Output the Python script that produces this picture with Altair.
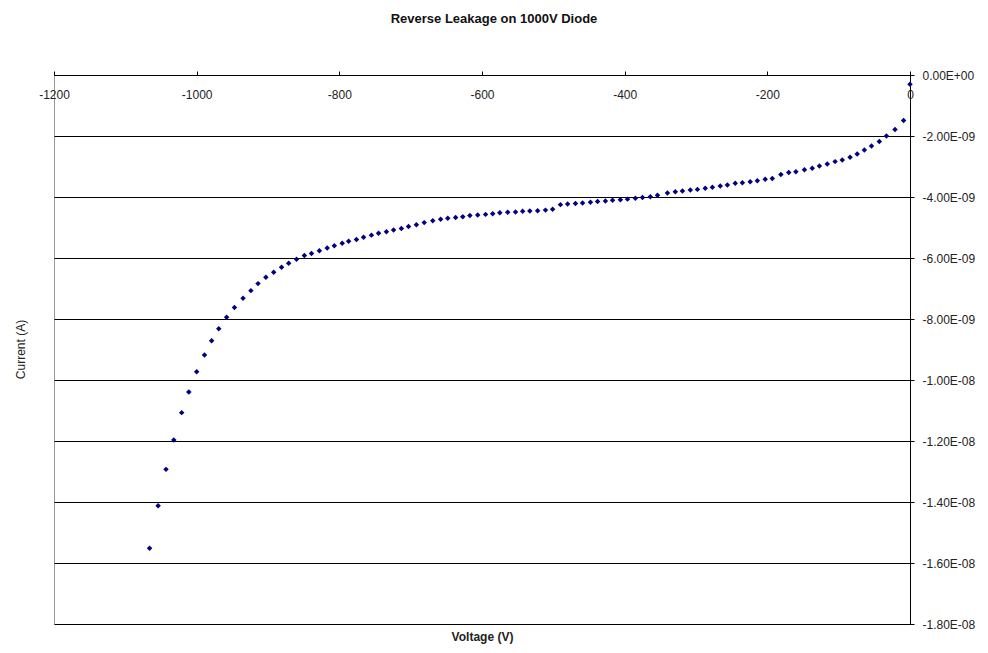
import altair as alt
import pandas as pd

TITLE = "Reverse Leakage on 1000V Diode"
X_TITLE = "Voltage (V)"
Y_TITLE = "Current (A)"

# Voltage (V)
VOLTAGE = [
    -1066, -1054, -1043, -1032, -1021, -1011, -1000, -989, -979, -969,
    -958, -947, -935, -924, -914, -903, -892, -881, -871, -860,
    -849, -839, -828, -817, -807, -796,
    -787, -776, -766, -755, -745, -734, -724, -713, -703, -692,
    -681, -669, -658, -648, -637, -627, -617, -606, -595, -585,
    -575, -564, -553, -543, -533, -522, -511, -501, -490, -480,
    -469, -459, -448, -438, -427, -417, -406, -396, -385, -375,
    -364, -354,
    -340, -329, -319, -308, -298, -287, -277, -266, -256, -245,
    -235, -224, -214, -203, -193, -181, -170, -160, -148, -137,
    -127, -116, -105, -95, -84, -74, -64, -54, -43, -33,
    -21, -9, 0,
]

# Current in nA
CURRENT_NA = [
    -15.52, -14.12, -12.93, -11.97, -11.07, -10.39, -9.73, -9.18, -8.71, -8.32,
    -7.94, -7.62, -7.32, -7.07, -6.84, -6.63, -6.47, -6.30, -6.17, -6.04,
    -5.92, -5.85, -5.76, -5.67, -5.60, -5.52,
    -5.45, -5.39, -5.32, -5.25, -5.19, -5.14, -5.08, -5.03, -4.97, -4.91,
    -4.84, -4.78, -4.73, -4.70, -4.67, -4.65, -4.61, -4.59, -4.57, -4.55,
    -4.52, -4.50, -4.49, -4.47, -4.46, -4.45, -4.43, -4.40, -4.25, -4.23,
    -4.21, -4.20, -4.17, -4.15, -4.13, -4.11, -4.09, -4.07, -4.04, -4.02,
    -3.99, -3.94,
    -3.87, -3.83, -3.80, -3.77, -3.75, -3.71, -3.68, -3.64, -3.61, -3.55,
    -3.53, -3.50, -3.47, -3.42, -3.39, -3.26, -3.20, -3.17, -3.11, -3.06,
    -2.98, -2.92, -2.84, -2.79, -2.70, -2.59, -2.46, -2.33, -2.18, -2.00,
    -1.79, -1.49, -0.30,
]

X_TICKS = [-1200, -1000, -800, -600, -400, -200, 0]
Y_TICKS = [0, -2e-9, -4e-9, -6e-9, -8e-9, -1e-8, -1.2e-8, -1.4e-8, -1.6e-8, -1.8e-8]

df = pd.DataFrame({"Voltage": VOLTAGE, "Current": [c * 1e-9 for c in CURRENT_NA]})

FONT = "Liberation Sans"

x_axis = alt.Axis(
    orient="top", values=X_TICKS, grid=False,
    domainColor="black", tickColor="black", tickSize=4,
    labelBaseline="top", labelPadding=-18, labelFlush=False, labelOverlap=False,
    labelExpr="(datum.value < 0 ? '-' : '') + abs(datum.value)",
    labelFont=FONT, labelFontSize=12, labelColor="#222222",
    title=X_TITLE, titleX=428, titleY=561, titleAlign="center", titleBaseline="middle",
    titleFont=FONT, titleFontSize=12, titleFontWeight="bold", titleColor="#222222",
)

y_axis = alt.Axis(
    orient="right", values=Y_TICKS, grid=True,
    gridColor="black", gridOpacity=1, gridWidth=1,
    domainColor="black", tickColor="black", tickSize=4,
    labelPadding=8, labelFlush=False, labelOverlap=False,
    labelExpr=(
        "datum.value == 0 ? '0.00E+00' : "
        "(abs(datum.value) >= 0.0000000099 ? "
        "'-' + format(abs(datum.value) * 100000000, '.2f') + 'E-08' : "
        "'-' + format(abs(datum.value) * 1000000000, '.2f') + 'E-09')"
    ),
    labelFont=FONT, labelFontSize=12, labelColor="#222222",
    title=Y_TITLE, titleX=-890, titleY=274, titleAngle=270,
    titleAlign="center", titleBaseline="middle",
    titleFont=FONT, titleFontSize=12, titleFontWeight="normal", titleColor="#222222",
)

chart = (
    alt.Chart(df)
    .mark_point(shape="diamond", filled=True, size=30, color="#000080", opacity=1)
    .encode(
        x=alt.X("Voltage:Q", scale=alt.Scale(domain=[-1200, 0], nice=False, zero=False), axis=x_axis),
        y=alt.Y("Current:Q", scale=alt.Scale(domain=[-1.8e-8, 0], nice=False, zero=False), axis=y_axis),
    )
    .properties(
        width=856,
        height=549,
        title=alt.TitleParams(TITLE, font=FONT, fontSize=13, fontWeight="bold",
                              color="#111111", anchor="middle", dx=12, offset=43),
        autosize=alt.AutoSizeParams(type="none"),
        padding={"left": 46, "top": 67, "right": 70, "bottom": 21},
        background="white",
    )
    .configure_view(stroke="#9a9a9a", strokeWidth=1)
)

chart.save("out.html", embed_options={"renderer": "svg", "actions": False})
